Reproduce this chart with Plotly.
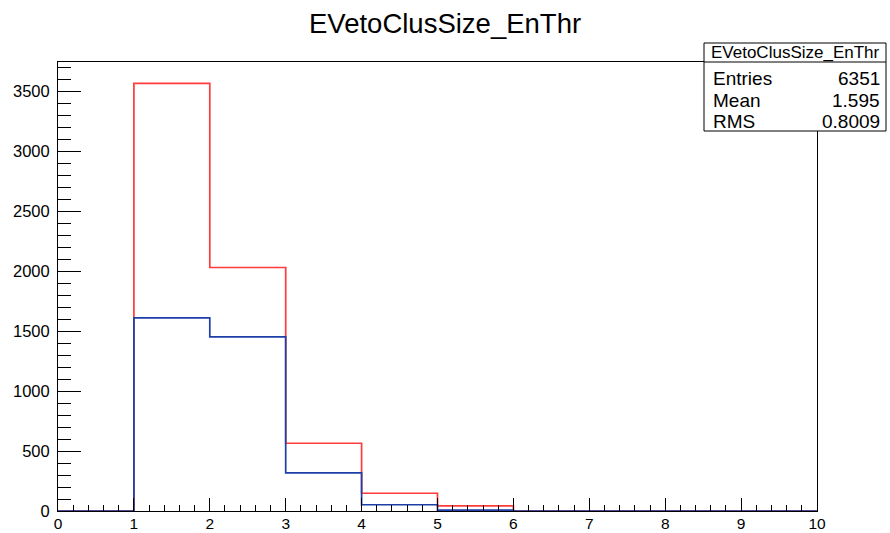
import plotly.graph_objects as go

# Bin edges (cluster size) and contents
bin_edges = [0, 1, 2, 3, 4, 5, 6, 7, 8, 9, 10]
red_counts = [0, 3565, 2030, 565, 148, 43, 0, 0, 0, 0]
blue_counts = [0, 1610, 1452, 318, 52, 8, 0, 0, 0, 0]

title_text = "EVetoClusSize_EnThr"
stats_labels = ["Entries", "Mean", "RMS"]
stats_values = ["6351", "1.595", "0.8009"]

W, H = 890, 533
L, R, T, B = 58, 817, 62, 511   # plot frame in page pixels

def px_x(px):
    return (px - L) / (R - L)

def px_y(py):
    return (B - py) / (B - T)

fig = go.Figure()
for counts, color in [(red_counts, "#ff3b3b"), (blue_counts, "#1d3fa8")]:
    fig.add_trace(go.Scatter(
        x=bin_edges,
        y=counts + [counts[-1]],
        mode="lines",
        line=dict(shape="hv", color=color, width=1.7),
        showlegend=False,
        hoverinfo="skip",
    ))

ymax = max(red_counts) * 1.05
font = "Liberation Sans, Arial, Helvetica, sans-serif"

fig.update_layout(
    width=W, height=H,
    margin=dict(l=L, r=W - R, t=T, b=H - B, autoexpand=False),
    paper_bgcolor="white", plot_bgcolor="white",
    font=dict(family=font, size=16, color="black"),
    showlegend=False,
    xaxis=dict(
        range=[0, 10], dtick=1, tick0=0,
        ticks="inside", ticklen=13, tickwidth=1, tickcolor="black",
        minor=dict(ticks="inside", dtick=0.2, ticklen=6, tickcolor="black", tickwidth=1),
        showgrid=False, zeroline=False, automargin=False,
        showline=True, linecolor="black", linewidth=1, mirror=True,
        tickfont=dict(size=15.5),
        ticklabelstandoff=-2,
    ),
    yaxis=dict(
        range=[0, ymax], dtick=500, tick0=0,
        ticks="inside", ticklen=23, tickwidth=1, tickcolor="black",
        minor=dict(ticks="inside", dtick=100, ticklen=13, tickcolor="black", tickwidth=1),
        showgrid=False, zeroline=False, automargin=False,
        showline=True, linecolor="black", linewidth=1, mirror=True,
        tickfont=dict(size=16.5),
        ticklabelstandoff=4,
    ),
)

# Title
fig.add_annotation(
    text=title_text, x=px_x(445), y=px_y(24), xref="paper", yref="paper",
    showarrow=False, font=dict(size=27.5, family=font), xanchor="center", yanchor="middle",
)

# Stats box
bx0, bx1, by0, by1, bsep = 704, 886, 43, 131, 62
fig.add_shape(type="rect", xref="paper", yref="paper",
              x0=px_x(bx0), x1=px_x(bx1), y0=px_y(by1), y1=px_y(by0),
              line=dict(color="black", width=1), fillcolor="white", layer="above")
fig.add_shape(type="line", xref="paper", yref="paper",
              x0=px_x(bx0), x1=px_x(bx1), y0=px_y(bsep), y1=px_y(bsep),
              line=dict(color="black", width=1), layer="above")
fig.add_annotation(
    text=title_text, x=px_x((bx0 + bx1) / 2), y=px_y(53), xref="paper", yref="paper",
    showarrow=False, font=dict(size=17, family=font), xanchor="center", yanchor="middle",
)
row_y = [78, 100, 122]
for lab, val, ry in zip(stats_labels, stats_values, row_y):
    fig.add_annotation(text=lab, x=px_x(711), y=px_y(ry), xref="paper", yref="paper",
                       showarrow=False, font=dict(size=19, family=font),
                       xanchor="left", yanchor="middle")
    fig.add_annotation(text=val, x=px_x(882), y=px_y(ry), xref="paper", yref="paper",
                       showarrow=False, font=dict(size=19, family=font),
                       xanchor="right", yanchor="middle")

fig.write_html(
    "out.html",
    config={"displayModeBar": False},
    post_script="document.body.style.margin='0';document.body.style.overflow='hidden';",
)
